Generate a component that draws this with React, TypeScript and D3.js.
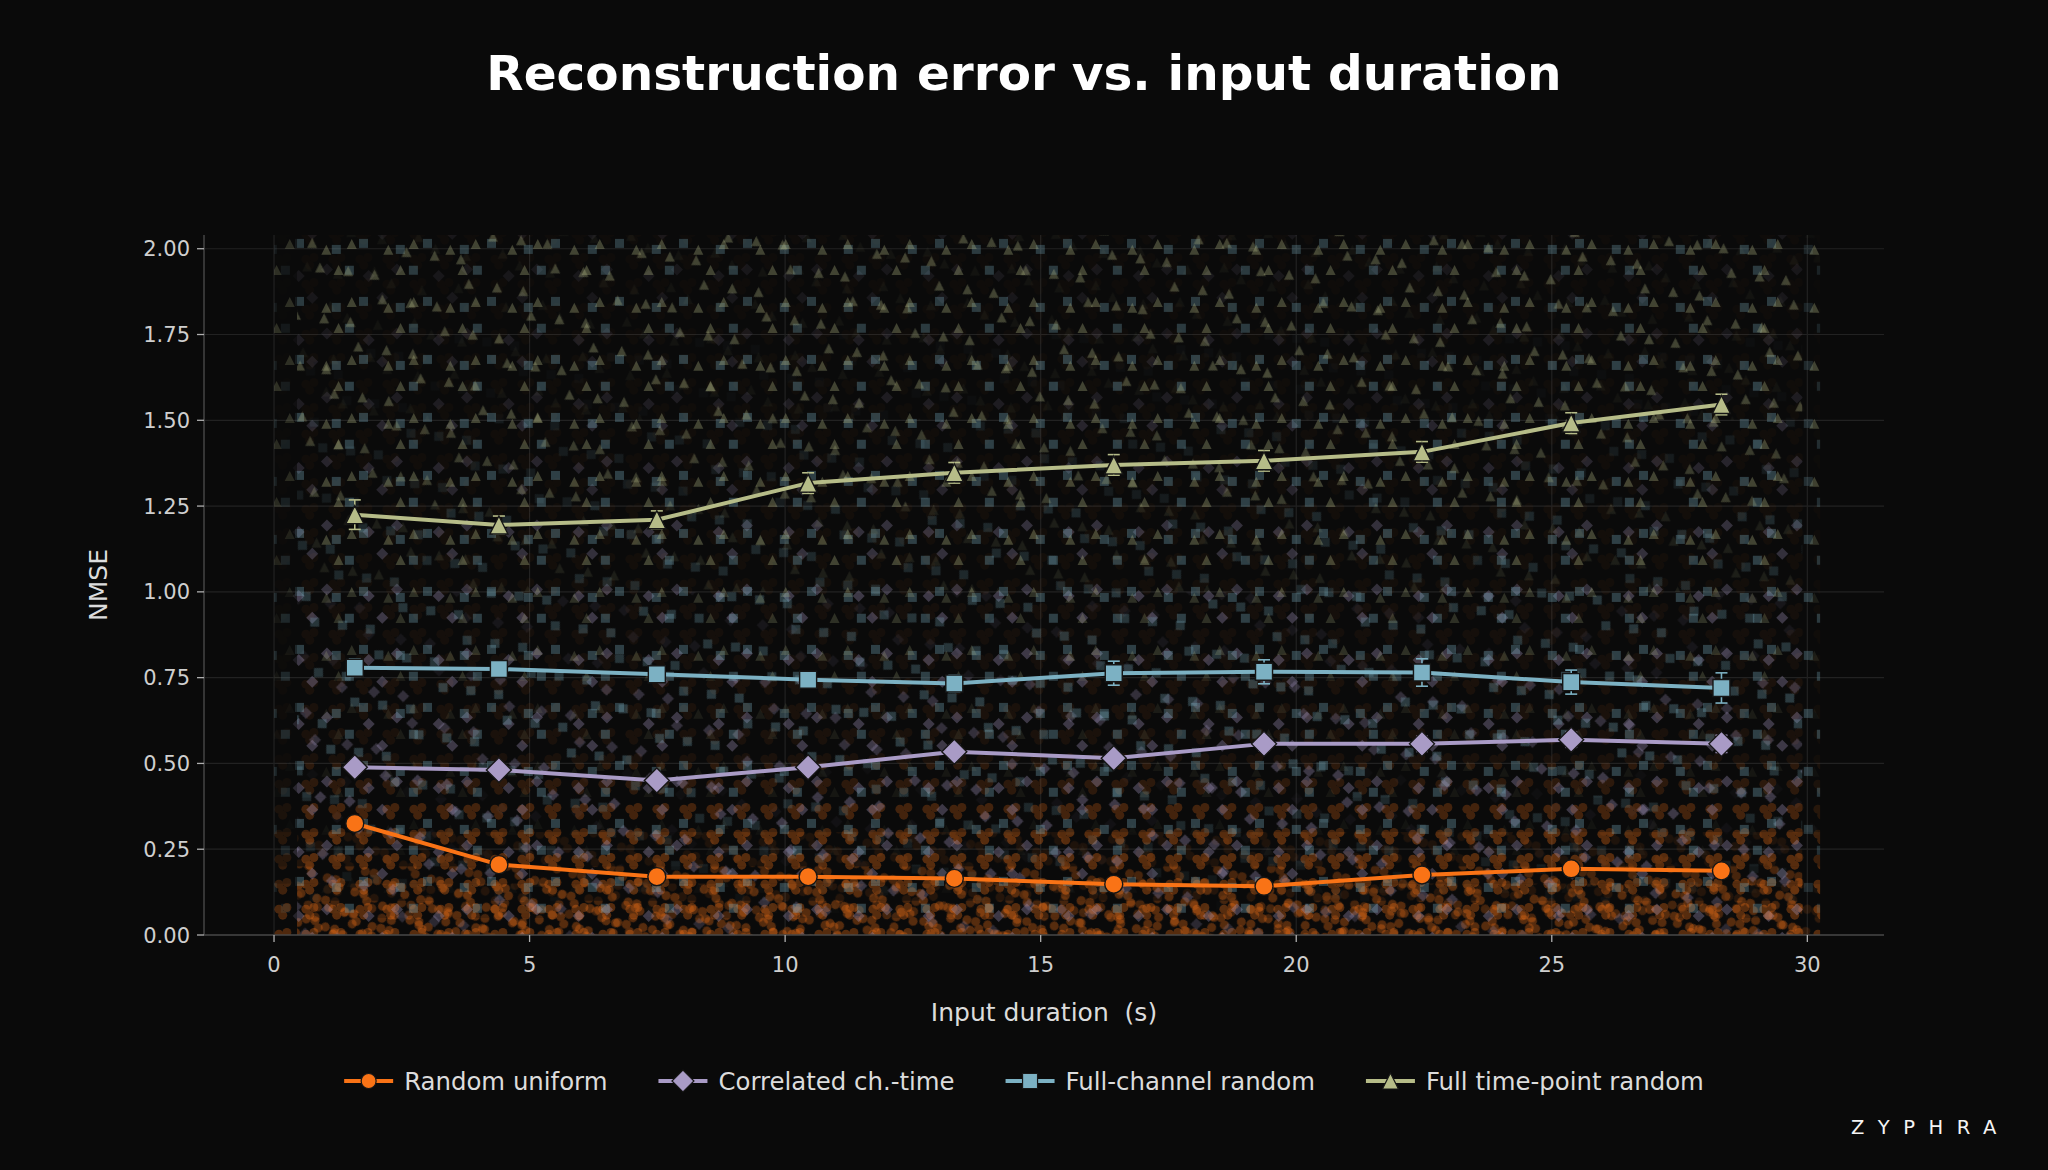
import * as d3 from "d3";
import { useEffect, useRef } from "react";

// mean NMSE per duration bucket
const durations = [1.58, 4.4, 7.49, 10.45, 13.31, 16.43, 19.37, 22.46, 25.38, 28.32];

const randomUniform = [0.325, 0.205, 0.17, 0.17, 0.165, 0.148, 0.142, 0.175, 0.193, 0.187];
const randomUniformErr = [0.015, 0.012, 0.01, 0.01, 0.01, 0.01, 0.01, 0.012, 0.012, 0.012];

const correlatedChTime = [0.489, 0.481, 0.45, 0.489, 0.534, 0.515, 0.557, 0.557, 0.569, 0.557];
const correlatedChTimeErr = [0.018, 0.018, 0.018, 0.02, 0.02, 0.02, 0.02, 0.022, 0.022, 0.025];

const fullChannel = [0.779, 0.775, 0.76, 0.744, 0.733, 0.763, 0.767, 0.765, 0.737, 0.72];
const fullChannelErr = [0.025, 0.022, 0.022, 0.022, 0.025, 0.035, 0.035, 0.04, 0.035, 0.044];

const fullTimePoint = [1.225, 1.195, 1.21, 1.317, 1.347, 1.37, 1.382, 1.408, 1.492, 1.546];
const fullTimePointErr = [0.043, 0.026, 0.026, 0.03, 0.03, 0.03, 0.03, 0.03, 0.03, 0.03];

// per-sample cloud, estimated as relative density per NMSE band
const cloudYEdges = [0, 0.05, 0.1, 0.15, 0.2, 0.3, 0.4, 0.5, 0.75, 1.0, 1.25, 1.5, 1.75, 2.04];
const cloudXEdges = [0, 0.45, 29.9, 30.25];
const cloudXWeight = [0.3, 1, 0.5];
const randomUniformDensity = [1.0, 0.92, 0.78, 0.6, 0.42, 0.25, 0.15, 0.07, 0.05, 0.04, 0.03, 0.025, 0.02];
const correlatedDensity = [0.55, 0.6, 0.64, 0.66, 0.7, 0.72, 0.7, 0.6, 0.42, 0.27, 0.19, 0.13, 0.09];
const fullChannelDensity = [0.32, 0.35, 0.38, 0.42, 0.46, 0.52, 0.58, 0.64, 0.6, 0.52, 0.44, 0.36, 0.3];
const fullTimePointDensity = [0.02, 0.02, 0.03, 0.03, 0.04, 0.05, 0.07, 0.1, 0.22, 0.45, 0.62, 0.72, 0.72];

const xTicks = [0, 5, 10, 15, 20, 25, 30];
const yTicks = [0, 0.25, 0.5, 0.75, 1.0, 1.25, 1.5, 1.75, 2.0];

type Kind = "circle" | "diamond" | "square" | "triangle";
type Series = {
  name: string;
  color: string;
  kind: Kind;
  mean: number[];
  err: number[];
  density: number[];
};

const series: Series[] = [
  { name: "Random uniform", color: "#f97316", kind: "circle", mean: randomUniform, err: randomUniformErr, density: randomUniformDensity },
  { name: "Correlated ch.-time", color: "#a99bc6", kind: "diamond", mean: correlatedChTime, err: correlatedChTimeErr, density: correlatedDensity },
  { name: "Full-channel random", color: "#7cb1c3", kind: "square", mean: fullChannel, err: fullChannelErr, density: fullChannelDensity },
  { name: "Full time-point random", color: "#b6bc88", kind: "triangle", mean: fullTimePoint, err: fullTimePointErr, density: fullTimePointDensity },
];

const mainSize: Record<Kind, number> = { circle: 9, diamond: 12.5, square: 8.5, triangle: 9 };
const legendSize: Record<Kind, number> = { circle: 7.5, diamond: 11, square: 7.5, triangle: 8 };
const cloudSize: Record<Kind, number> = { circle: 4.5, diamond: 6, square: 4.5, triangle: 5 };

// texture for the sample cloud: base tile per marker kind, three offset layers
const cloudTile: Record<Kind, [number, number]> = {
  circle: [27, 25],
  diamond: [70, 64],
  square: [64, 58],
  triangle: [62, 58],
};
const layerScale = [
  [1, 1],
  [1.13, 0.92],
  [0.91, 1.12],
];
const layerAngle = [0, 27, -38];
const layerSpots = [
  [[0.2, 0.25], [0.72, 0.12], [0.45, 0.7]],
  [[0.12, 0.6], [0.56, 0.38], [0.88, 0.84]],
  [[0.36, 0.05], [0.82, 0.52], [0.22, 0.92]],
];
const cloudAlpha = 0.32;

function markerPath(kind: Kind, r: number): string {
  const p = d3.path();
  if (kind === "circle") {
    p.moveTo(r, 0);
    p.arc(0, 0, r, 0, Math.PI * 2);
  } else if (kind === "square") {
    p.rect(-r, -r, 2 * r, 2 * r);
  } else if (kind === "diamond") {
    p.moveTo(0, -r);
    p.lineTo(r, 0);
    p.lineTo(0, r);
    p.lineTo(-r, 0);
    p.closePath();
  } else {
    p.moveTo(0, -r);
    p.lineTo(r, r);
    p.lineTo(-r, r);
    p.closePath();
  }
  return p.toString();
}

const FONT = "'DejaVu Sans', Verdana, sans-serif";

export default function App() {
  const ref = useRef<SVGSVGElement | null>(null);

  useEffect(() => {
    const el = ref.current;
    if (!el) return;
    document.body.style.margin = "0";
    document.body.style.background = "#0a0a0a";

    const W = 2048;
    const H = 1170;
    const left = 204;
    const right = 1884;
    const top = 235;
    const bottom = 935;

    const svg = d3.select(el);
    svg.selectAll("*").remove();
    svg.attr("width", W).attr("height", H).attr("viewBox", `0 0 ${W} ${H}`);

    const x = d3.scaleLinear().domain([-1.37, 31.5]).range([left, right]);
    const y = d3.scaleLinear().domain([0, 2.04]).range([bottom, top]);

    svg.append("rect").attr("width", W).attr("height", H).attr("fill", "#0a0a0a");

    const defs = svg.append("defs");
    defs
      .append("clipPath")
      .attr("id", "plot-clip")
      .append("rect")
      .attr("x", left)
      .attr("y", top)
      .attr("width", right - left)
      .attr("height", bottom - top);

    series.forEach((s, si) => {
      const r = cloudSize[s.kind] * 1.3;
      layerScale.forEach((sc, li) => {
        const w = Math.round(cloudTile[s.kind][0] * sc[0]);
        const h = Math.round(cloudTile[s.kind][1] * sc[1]);
        const pat = defs
          .append("pattern")
          .attr("id", `cloud-${si}-${li}`)
          .attr("patternUnits", "userSpaceOnUse")
          .attr("patternTransform", `rotate(${layerAngle[li]})`)
          .attr("width", w)
          .attr("height", h);
        pat
          .selectAll("path")
          .data(layerSpots[li])
          .join("path")
          .attr(
            "transform",
            (f) => `translate(${r + f[0] * (w - 2 * r)},${r + f[1] * (h - 2 * r)}) rotate(${-layerAngle[li]})`,
          )
          .attr("d", markerPath(s.kind, cloudSize[s.kind]))
          .attr("fill", s.color);
      });
    });

    // grid
    const grid = svg.append("g");
    grid
      .selectAll("line.gy")
      .data(yTicks)
      .join("line")
      .attr("x1", left)
      .attr("x2", right)
      .attr("y1", (d) => y(d))
      .attr("y2", (d) => y(d))
      .attr("stroke", "#222222")
      .attr("stroke-width", 1.2);
    grid
      .selectAll("line.gx")
      .data(xTicks)
      .join("line")
      .attr("x1", (d) => x(d))
      .attr("x2", (d) => x(d))
      .attr("y1", top)
      .attr("y2", bottom)
      .attr("stroke", "#222222")
      .attr("stroke-width", 1.2);

    // sample cloud
    const cloud = svg.append("g").attr("clip-path", "url(#plot-clip)");
    series.forEach((s, si) => {
      const cells: { x0: number; x1: number; y0: number; y1: number; d: number }[] = [];
      cloudXWeight.forEach((w, i) => {
        s.density.forEach((d, j) => {
          cells.push({ x0: cloudXEdges[i], x1: cloudXEdges[i + 1], y0: cloudYEdges[j], y1: cloudYEdges[j + 1], d: d * w });
        });
      });
      layerScale.forEach((_, li) => {
        cloud
          .append("g")
          .selectAll("rect")
          .data(cells.filter((c) => c.d * layerScale.length - li > 0))
          .join("rect")
          .attr("x", (c) => x(c.x0))
          .attr("width", (c) => x(c.x1) - x(c.x0))
          .attr("y", (c) => y(c.y1))
          .attr("height", (c) => y(c.y0) - y(c.y1))
          .attr("fill", `url(#cloud-${si}-${li})`)
          .attr("opacity", (c) => cloudAlpha * Math.min(1, c.d * layerScale.length - li));
      });
    });

    // spines + ticks
    const axes = svg.append("g");
    axes
      .append("line")
      .attr("x1", left)
      .attr("x2", left)
      .attr("y1", top)
      .attr("y2", bottom)
      .attr("stroke", "#444444")
      .attr("stroke-width", 1.5);
    axes
      .append("line")
      .attr("x1", left)
      .attr("x2", right)
      .attr("y1", bottom)
      .attr("y2", bottom)
      .attr("stroke", "#444444")
      .attr("stroke-width", 1.5);

    const fmt = d3.format(".2f");
    const yt = axes.selectAll("g.yt").data(yTicks).join("g").attr("transform", (d) => `translate(${left},${y(d)})`);
    yt.append("line").attr("x1", -7).attr("x2", 0).attr("stroke", "#b0b0b0").attr("stroke-width", 1.3);
    yt.append("text")
      .attr("x", -14)
      .attr("dy", "0.36em")
      .attr("text-anchor", "end")
      .attr("fill", "#cfcfcf")
      .attr("font-family", FONT)
      .attr("font-size", 21)
      .text((d) => fmt(d));

    const xt = axes.selectAll("g.xt").data(xTicks).join("g").attr("transform", (d) => `translate(${x(d)},${bottom})`);
    xt.append("line").attr("y1", 0).attr("y2", 7).attr("stroke", "#b0b0b0").attr("stroke-width", 1.3);
    xt.append("text")
      .attr("y", 37)
      .attr("text-anchor", "middle")
      .attr("fill", "#cfcfcf")
      .attr("font-family", FONT)
      .attr("font-size", 21)
      .text((d) => String(d));

    svg
      .append("text")
      .attr("x", (left + right) / 2)
      .attr("y", 1021)
      .attr("text-anchor", "middle")
      .attr("fill", "#dcdcdc")
      .attr("font-family", FONT)
      .attr("font-size", 25)
      .style("white-space", "pre")
      .text("Input duration  (s)");

    svg
      .append("text")
      .attr("transform", `translate(107,${(top + bottom) / 2}) rotate(-90)`)
      .attr("text-anchor", "middle")
      .attr("fill", "#dcdcdc")
      .attr("font-family", FONT)
      .attr("font-size", 25)
      .text("NMSE");

    // series: error bars, lines, markers
    const plot = svg.append("g");
    series.forEach((s) => {
      const pts = durations.map((d, i) => ({ t: d, v: s.mean[i], e: s.err[i] }));
      const eb = plot.append("g").attr("stroke", s.color).attr("stroke-width", 1.6);
      pts.forEach((p) => {
        eb.append("line").attr("x1", x(p.t)).attr("x2", x(p.t)).attr("y1", y(p.v - p.e)).attr("y2", y(p.v + p.e));
        eb.append("line").attr("x1", x(p.t) - 6).attr("x2", x(p.t) + 6).attr("y1", y(p.v - p.e)).attr("y2", y(p.v - p.e));
        eb.append("line").attr("x1", x(p.t) - 6).attr("x2", x(p.t) + 6).attr("y1", y(p.v + p.e)).attr("y2", y(p.v + p.e));
      });
      const line = d3
        .line<{ t: number; v: number }>()
        .x((d) => x(d.t))
        .y((d) => y(d.v));
      plot
        .append("path")
        .datum(pts)
        .attr("fill", "none")
        .attr("stroke", s.color)
        .attr("stroke-width", 4)
        .attr("stroke-linejoin", "round")
        .attr("d", line);
      plot
        .append("g")
        .selectAll("path")
        .data(pts)
        .join("path")
        .attr("transform", (d) => `translate(${x(d.t)},${y(d.v)})`)
        .attr("d", markerPath(s.kind, mainSize[s.kind]))
        .attr("fill", s.color)
        .attr("stroke", "#161616")
        .attr("stroke-width", 1.4);
    });

    // title
    svg
      .append("text")
      .attr("x", W / 2)
      .attr("y", 90)
      .attr("text-anchor", "middle")
      .attr("fill", "#ffffff")
      .attr("font-family", FONT)
      .attr("font-weight", "bold")
      .attr("font-size", 48.5)
      .text("Reconstruction error vs. input duration");

    // legend
    const legend = svg.append("g");
    const handleW = 49;
    const items = series.map((s) => {
      const g = legend.append("g");
      g.append("line").attr("x1", 0).attr("x2", handleW).attr("y1", 0).attr("y2", 0).attr("stroke", s.color).attr("stroke-width", 4);
      g.append("path")
        .attr("transform", `translate(${handleW / 2},0)`)
        .attr("d", markerPath(s.kind, legendSize[s.kind]))
        .attr("fill", s.color)
        .attr("stroke", "#161616")
        .attr("stroke-width", 1.2);
      const txt = g
        .append("text")
        .attr("x", handleW + 11)
        .attr("y", 8.5)
        .attr("fill", "#dcdcdc")
        .attr("font-family", FONT)
        .attr("font-size", 24.4)
        .text(s.name);
      const tw = (txt.node() as SVGTextElement).getComputedTextLength();
      return { g, w: handleW + 11 + tw };
    });
    const gap = 51;
    const total = d3.sum(items, (d) => d.w) + gap * (items.length - 1);
    let cx = W / 2 - total / 2;
    items.forEach((it) => {
      it.g.attr("transform", `translate(${cx},1081)`);
      cx += it.w + gap;
    });

    // brand mark
    svg
      .append("text")
      .attr("x", 1851)
      .attr("y", 1134)
      .attr("fill", "#f4f4f4")
      .attr("font-family", FONT)
      .attr("font-size", 19.5)
      .attr("letter-spacing", 13.5)
      .text("ZYPHRA");
  }, []);

  return <svg ref={ref} style={{ display: "block" }} />;
}
